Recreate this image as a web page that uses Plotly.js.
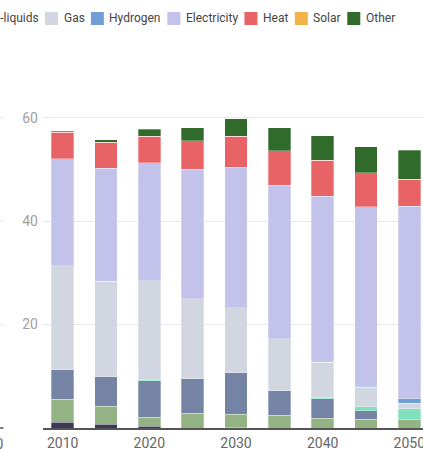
<!DOCTYPE html>
<html><head><meta charset="utf-8">
<script src="https://cdn.plot.ly/plotly-3.0.1.min.js"></script>
<style>
html,body{margin:0;padding:0;width:423px;height:450px;overflow:hidden;background:#fff;position:relative}
#chart{position:absolute;left:-300px;top:0;width:760px;height:450px}
</style>
</head><body><div id="chart"></div>
<script>
// ---- data ----
const years = [2010, 2015, 2020, 2025, 2030, 2035, 2040, 2045, 2050];
const coal        = [1.1, 0.7, 0.3, 0.1, 0.05, 0, 0, 0, 0];
const biomass     = [4.5, 3.5, 1.75, 2.8, 2.65, 2.45, 1.85, 1.65, 1.55];
const oil         = [5.8, 5.7, 7.1, 6.65, 8.1, 4.75, 3.85, 1.7, 0.1];
const bioLiquids  = [0, 0, 0.2, 0, 0, 0, 0.15, 0.75, 2.1];
const gas         = [20.0, 18.5, 19.15, 15.4, 12.5, 10.1, 6.9, 3.75, 1.0];
const hydrogen    = [0, 0, 0, 0, 0, 0, 0, 0.2, 0.9];
const electricity = [20.7, 21.8, 22.8, 25.1, 27.1, 29.6, 32.1, 34.75, 37.25];
const heat        = [5.1, 5.1, 5.1, 5.5, 6.0, 6.7, 6.9, 6.55, 5.15];
const solar       = [0, 0, 0, 0, 0, 0, 0, 0, 0];
const other       = [0.2, 0.4, 1.4, 2.5, 3.4, 4.5, 4.8, 5.05, 5.65];

const seriesNames  = ['Coal', 'Biomass', 'Oil', 'Bio-liquids', 'Gas', 'Hydrogen', 'Electricity', 'Heat', 'Solar', 'Other'];
const seriesValues = [coal, biomass, oil, bioLiquids, gas, hydrogen, electricity, heat, solar, other];
const seriesColors = ['#3b3a55', '#93b384', '#7584a5', '#7fe0c0', '#d2d6e0', '#6f9fd5', '#c3c2ea', '#e76365', '#f2b44a', '#306b2c'];
const yTicks = [20, 40, 60];

// ---- geometry ----
const OFF = 300, W = 760, H = 450;
const M = {l: 343, r: 29, t: 97, b: 22};
const plotW = W - M.l - M.r, plotH = H - M.t - M.b;
const YMAX = 64;
const pxX = px => (px + OFF - M.l) / plotW;      // page px -> paper x
const pxY = py => (H - M.b - py) / plotH;        // page px -> paper y

const ctx = document.createElement('canvas').getContext('2d');
ctx.font = '12px Roboto';
const tw = s => ctx.measureText(s).width;

// ---- traces ----
const traces = seriesNames.map((name, i) => ({
  type: 'bar', name: name, x: years, y: seriesValues[i],
  marker: {color: seriesColors[i], line: {width: 0.5, color: 'rgba(255,255,255,0.6)'}},
  hoverinfo: 'x+y+name'
}));

// ---- custom legend ----
const SW = 13, TXT = 17.5, GAP = 7.5;
const anchorIdx = 4, anchorX = 45;
const xs = new Array(seriesNames.length);
xs[anchorIdx] = anchorX;
for (let i = anchorIdx + 1; i < seriesNames.length; i++) xs[i] = xs[i-1] + TXT + tw(seriesNames[i-1]) + GAP;
for (let i = anchorIdx - 1; i >= 0; i--) xs[i] = xs[i+1] - GAP - tw(seriesNames[i]) - TXT;

const shapes = [];
const annotations = [];
seriesNames.forEach((name, i) => {
  shapes.push({type: 'rect', xref: 'paper', yref: 'paper',
    x0: pxX(xs[i]), x1: pxX(xs[i] + SW), y0: pxY(25), y1: pxY(12),
    fillcolor: seriesColors[i], line: {width: 0}});
  annotations.push({xref: 'paper', yref: 'paper', x: pxX(xs[i] + TXT), y: pxY(18.5),
    xanchor: 'left', yanchor: 'middle', text: name, showarrow: false, borderpad: 0,
    font: {family: 'Roboto', size: 12, color: '#444'}});
});

// ---- fragments of neighbouring panel on the left ----
yTicks.forEach(v => shapes.push({type: 'line', xref: 'paper', yref: 'paper',
  x0: pxX(-OFF + 20), x1: pxX(4), y0: v / YMAX, y1: v / YMAX,
  line: {color: '#e8e8e8', width: 1}}));
shapes.push({type: 'line', xref: 'paper', yref: 'paper',
  x0: pxX(-OFF + 20), x1: pxX(3.5), y0: 0, y1: 0, line: {color: '#555', width: 1.5}});
annotations.push({xref: 'paper', yref: 'paper', x: pxX(4.5), y: pxY(443.5),
  xanchor: 'right', yanchor: 'middle', text: String(years[years.length - 1]), showarrow: false,
  borderpad: 0, font: {family: 'Roboto', size: 14, color: '#666'}});

const layout = {
  width: W, height: H,
  margin: M,
  paper_bgcolor: '#fff', plot_bgcolor: '#fff',
  barmode: 'stack', bargap: 0.48,
  showlegend: false,
  font: {family: 'Roboto', size: 14, color: '#666'},
  xaxis: {
    range: [2007.73, 2052.5], tickvals: years.filter(y => y % 10 === 0),
    showgrid: false, zeroline: false, showline: true, linecolor: '#555', linewidth: 1.5,
    ticks: '', ticklabelstandoff: 2, tickfont: {family: 'Roboto', size: 14, color: '#666'}, automargin: false
  },
  yaxis: {
    range: [0, YMAX], tickvals: yTicks, showgrid: true, gridcolor: '#e8e8e8', gridwidth: 1,
    zeroline: false, showline: false, ticks: '', ticklabelstandoff: 4,
    tickfont: {family: 'Roboto', size: 14, color: '#a0a0a0'}, automargin: false
  },
  shapes: shapes,
  annotations: annotations
};

Plotly.newPlot('chart', traces, layout, {displayModeBar: false, staticPlot: true});
</script>
</body></html>
